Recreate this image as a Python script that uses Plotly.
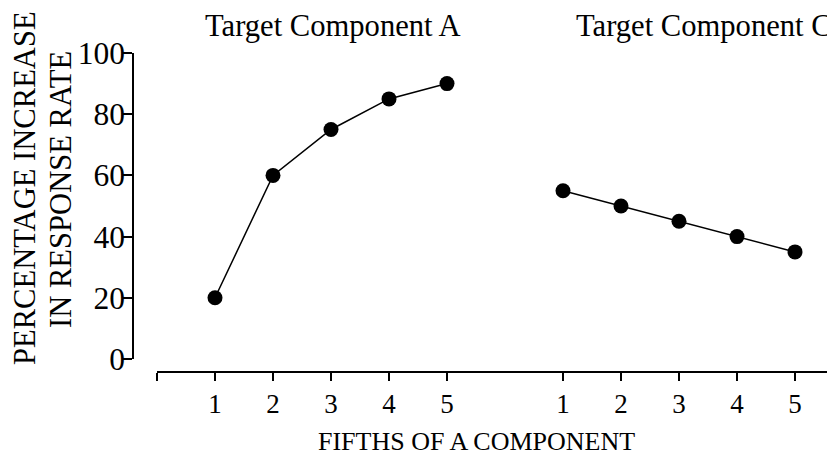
import plotly.graph_objects as go

W, H = 835, 456

fifths = [1, 2, 3, 4, 5]
tick_labels = ["1", "2", "3", "4", "5"]
comp_a = [20, 60, 75, 85, 90]
comp_c = [55, 50, 45, 40, 35]
panel_offset = 6  # second panel placed after a gap on the shared axis
y_ticks = [0, 20, 40, 60, 80, 100]

FONT = "Liberation Serif"

x_a = fifths
x_c = [f + panel_offset for f in fifths]

# page body has an 8px margin: target window pixels -> figure pixels
OFF = 8


def fx(px):
    return (px - OFF) / W


def fy(py):
    return (H - (py - OFF)) / H


fig = go.Figure()
for xs, ys in [(x_a, comp_a), (x_c, comp_c)]:
    fig.add_trace(go.Scatter(
        x=xs, y=ys, mode="lines+markers",
        line=dict(color="black", width=1.5),
        marker=dict(color="black", size=15),
        showlegend=False, cliponaxis=False,
    ))

unit = 58.0
x_start_px = 157
fig_right_px = W  # figure's own right edge (extends past the window)

fig.update_layout(
    width=W, height=H,
    margin=dict(l=0, r=0, t=0, b=0, pad=0, autoexpand=False),
    paper_bgcolor="white", plot_bgcolor="white",
    font=dict(family=FONT, color="black"),
    xaxis=dict(
        domain=[fx(x_start_px), 1.0],
        range=[0, (fig_right_px - (x_start_px - OFF)) / unit],
        anchor="free", position=fy(372),
        showline=True, linecolor="black", linewidth=1.5,
        ticks="outside", ticklen=8, tickwidth=1.5, tickcolor="black",
        tickvals=[0] + x_a + x_c,
        ticktext=[""] + tick_labels + tick_labels,
        tickfont=dict(size=27, family=FONT, color="black"),
        showgrid=False, zeroline=False, automargin=False,
    ),
    yaxis=dict(
        domain=[fy(359), fy(53)],
        range=[0, 100],
        anchor="free", position=fx(133),
        showline=True, linecolor="black", linewidth=1.5,
        ticks="outside", ticklen=10, tickwidth=1.5, tickcolor="black",
        tickvals=y_ticks, ticklabelstandoff=-9,
        tickfont=dict(size=31.5, family=FONT, color="black"),
        showgrid=False, zeroline=False, automargin=False,
    ),
)

annotations = [
    dict(text="Target Component A", x=fx(332.5), y=fy(26)),
    dict(text="Target Component C", x=fx(704), y=fy(26)),
    dict(text="FIFTHS OF A COMPONENT", x=fx(476.5), y=fy(441), size=26),
    dict(text="PERCENTAGE INCREASE", x=fx(25), y=fy(188), angle=-90),
    dict(text="IN RESPONSE RATE", x=fx(61), y=fy(190), angle=-90),
]
for a in annotations:
    fig.add_annotation(
        text=a["text"], x=a["x"], y=a["y"], xref="paper", yref="paper",
        xanchor="center", yanchor="middle", showarrow=False,
        textangle=a.get("angle", 0),
        font=dict(family=FONT, size=a.get("size", 30.6), color="black"),
    )

fig.write_html("out.html")
